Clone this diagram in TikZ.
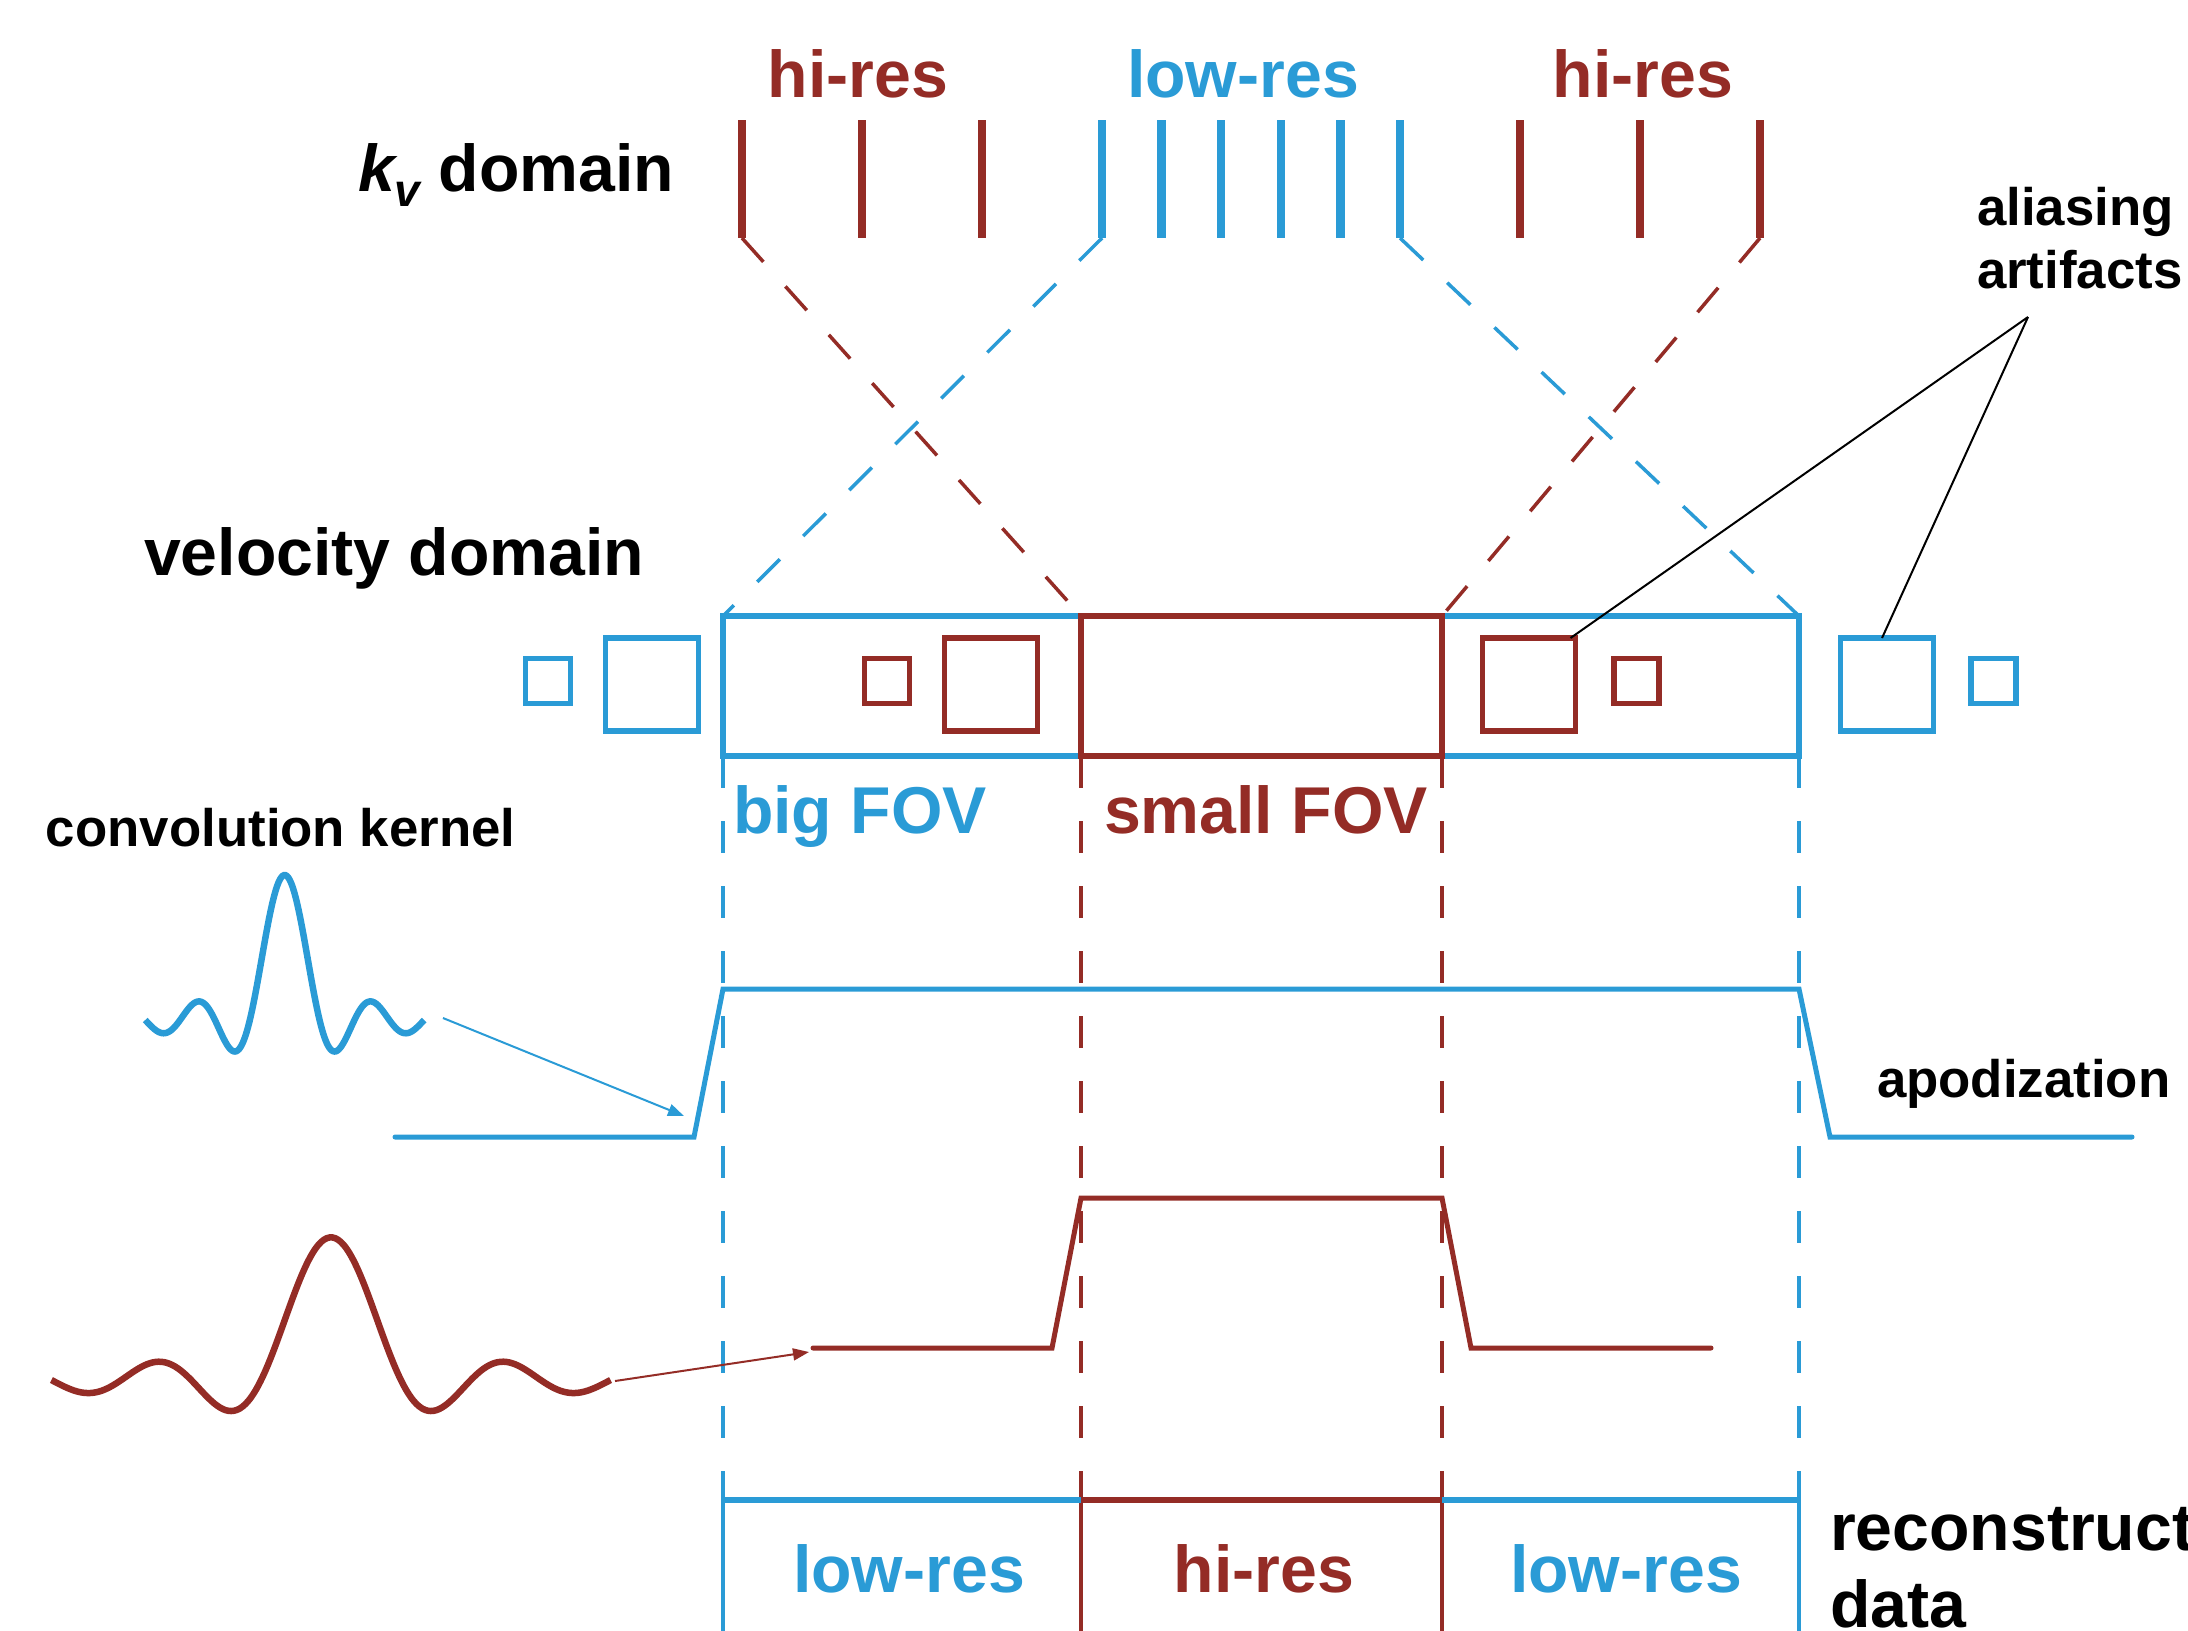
\documentclass[tikz,border=0pt]{standalone}
\usepackage{fontspec}
\setmainfont{Liberation Sans}
\usetikzlibrary{arrows.meta}
\definecolor{cred}{RGB}{148,44,38}
\definecolor{cblue}{RGB}{42,155,214}
\begin{document}
\begin{tikzpicture}[x=0.5pt,y=-0.5pt,
  big/.style={font=\fontsize{33.1}{39}\selectfont\bfseries, inner sep=0pt, outer sep=0pt},
  mid/.style={font=\fontsize{26.4}{31}\selectfont\bfseries, inner sep=0pt, outer sep=0pt},
  kick/.style={line width=4.25pt},
  fov/.style={line width=2.75pt},
  side/.style={line width=2pt},
  guide/.style={line width=1.75pt, dash pattern=on 16pt off 16.5pt},
  curve/.style={line width=2.5pt, line cap=round},
  kern/.style={line width=3.25pt},
  sq/.style={draw, line width=2.75pt, inner sep=0pt, outer sep=0pt, minimum size=46.5pt},
  ssq/.style={draw, line width=2.75pt, inner sep=0pt, outer sep=0pt, minimum size=22.5pt},
  thin/.style={line width=1pt},
  arr/.style={line width=1pt, -{Triangle[length=8pt,width=6pt]}}]
\useasboundingbox (0,0) rectangle (2188,1630);

% k_v ticks
\foreach \x [count=\i] in {742,862,982} {\draw[cred,kick] (\x,120) -- (\x,238) coordinate (rt\i);}
\foreach \x [count=\i] in {1102,1161.6,1221.2,1280.8,1340.4,1400} {\draw[cblue,kick] (\x,120) -- (\x,238) coordinate (bt\i);}
\foreach \x [count=\i] in {1520,1640,1760} {\draw[cred,kick] (\x,120) -- (\x,238) coordinate (rs\i);}

% labels top
\node[big,cred,anchor=base] (h1) at (858,97) {hi-res};
\node[big,cblue,anchor=base] (l1) at (1243,97) {low-res};
\node[big,cred,anchor=base] (h2) at (1643,97) {hi-res};
\node[big,anchor=base west] (kv) at (358,191) {{\itshape k}\raisebox{-7.5pt}{\fontsize{23}{27}\selectfont\itshape v} domain};
\node[big,anchor=base west] (vd) at (144,575) {velocity domain};

% FOV corners
\coordinate (B1) at (723,616); \coordinate (B2) at (1799,616);
\coordinate (R1) at (1081,616); \coordinate (R2) at (1442,616);
\coordinate (B1b) at (723,756); \coordinate (B2b) at (1799,756);
\coordinate (R1b) at (1081,756); \coordinate (R2b) at (1442,756);

% dashed guides from k-space
\draw[cred,guide] (rt1) -- (R1);
\draw[cblue,guide] (bt1) -- (B1);
\draw[cblue,guide] (bt6) -- (B2);
\draw[cred,guide] (rs3) -- (R2);

% vertical dashed guides
\coordinate (B1d) at (723,1500); \coordinate (B2d) at (1799,1500);
\coordinate (R1d) at (1081,1500); \coordinate (R2d) at (1442,1500);
\draw[cblue,guide] (B1b) -- (B1d);
\draw[cblue,guide] (B2b) -- (B2d);
\draw[cred,guide] (R1b) -- (R1d);
\draw[cred,guide] (R2b) -- (R2d);

% FOV boxes
\draw[cblue,fov] (B1) rectangle (B2b);
\draw[cred,fov] (R1) rectangle (R2b);

% aliasing squares
\node[ssq,draw=cblue] (bsq1) at (548,681) {};
\node[sq,draw=cblue] (bsq2) at (652,684.5) {};
\node[ssq,draw=cred] (rsq1) at (887,681) {};
\node[sq,draw=cred] (rsq2) at (991,684.5) {};
\node[sq,draw=cred] (rsq3) at (1529,684.5) {};
\node[ssq,draw=cred] (rsq4) at (1636.5,681) {};
\node[sq,draw=cblue] (bsq3) at (1887,684.5) {};
\node[ssq,draw=cblue] (bsq4) at (1993.5,681) {};

% aliasing label
\node[mid,anchor=base west] (al1) at (1977,225) {aliasing};
\node[mid,anchor=base west] (al2) at (1977,288) {artifacts};
\coordinate (alp) at (2028,317);
\draw[thin] (alp) -- ([xshift=-2.5pt]rsq3.north east);
\draw[thin] (alp) -- ([xshift=-2.5pt]bsq3.north);

% FOV labels
\node[big,cblue,anchor=base west] (bf) at (733,833) {big FOV};
\node[big,cred,anchor=base west] (sf) at (1104,833) {small FOV};
\node[mid,anchor=base west] (ck) at (46,846) {convolution kernel};
\node[mid,anchor=base west] (ap) at (1877,1097) {apodization};

% apodization windows
\draw[cblue,curve] (395,1137) -- (694,1137) -- (723,989) -- (1799,989) -- (1830,1137) -- (2132,1137);
\draw[cred,curve] (813,1348) -- (1052,1348) -- (1081,1198) -- (1442,1198) -- (1471,1348) -- (1711,1348);

% kernels
\draw[cblue,kern] plot[domain=-12.566:12.566, samples=200, smooth] ({284.7+11.1*\x}, {1020-145*sin(\x r)/\x});
\draw[cred,kern] plot[domain=-12.566:12.566, samples=200, smooth] ({331+22.25*\x}, {1380-142.7*sin(\x r)/\x});

% kernel arrows
\coordinate (bk) at (443,1018); \coordinate (ba) at (684,1116);
\draw[cblue,arr] (bk) -- (ba);
\coordinate (rk) at (615,1381); \coordinate (ra) at (809,1352);
\draw[cred,arr] (rk) -- (ra);

% reconstructed data boxes
\draw[cblue,side] (723,1640) -- (B1d);
\draw[cblue,side] (1799,1640) -- (B2d);
\draw[cred,side] (1081,1640) -- (R1d);
\draw[cred,side] (1442,1640) -- (R2d);
\draw[cblue,fov] (B1d) -- (R1d);
\draw[cblue,fov] (R2d) -- (B2d);
\draw[cred,fov] (R1d) -- (R2d);
\node[big,cblue,anchor=base] (lr1) at (909,1592) {low-res};
\node[big,cred,anchor=base] (hr) at (1264,1592) {hi-res};
\node[big,cblue,anchor=base] (lr2) at (1626,1592) {low-res};
\node[big,anchor=base west] (rd1) at (1830,1550) {reconstructed};
\node[big,anchor=base west] (rd2) at (1830,1627) {data};
\end{tikzpicture}
\end{document}
